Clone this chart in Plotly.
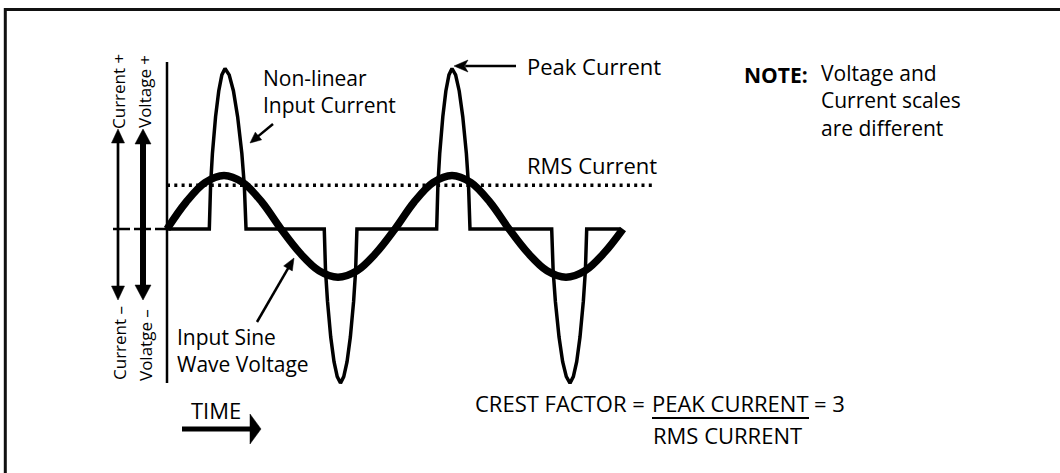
import math
import plotly.graph_objects as go

# ---------------- data (time in electrical degrees, amplitude in relative units) ----------------
volt_t = [0, 30, 60, 90, 120, 150, 180, 210, 240, 270, 300, 330, 360,
          390, 420, 450, 480, 510, 540, 570, 600, 630, 660, 690, 720]
volt_v = [0, 0.5, 0.866, 1.0, 0.866, 0.5, 0, -0.45, -0.78, -0.9, -0.78, -0.45, 0,
          0.5, 0.866, 1.0, 0.866, 0.5, 0, -0.45, -0.78, -0.9, -0.78, -0.45, 0]

cur_t = [0,
         66.8, 68.8, 71.7, 76.7, 81.7, 86.6, 91.6, 98.2, 104.9, 111.5, 118.2, 122.1, 124.8,
         248.3, 250.3, 253.4, 258.5, 263.7, 268.8, 273.9, 279.1, 284.3, 289.5, 294.7, 297.8, 299.9,
         425.8, 427.7, 430.6, 435.5, 440.3, 445.2, 450.0, 455.7, 461.4, 467.0, 472.7, 476.1, 478.4,
         607.4, 609.7, 613.2, 619.0, 624.7, 630.5, 636.3, 641.6, 646.9, 652.1, 657.4, 660.6, 662.7,
         715]
cur_v = [0,
         0, 0.81, 1.41, 2.10, 2.58, 2.88, 3.0, 2.88, 2.58, 2.10, 1.41, 0.81, 0,
         0, -0.78, -1.35, -2.02, -2.48, -2.76, -2.88, -2.76, -2.48, -2.02, -1.35, -0.78, 0,
         0, 0.81, 1.41, 2.10, 2.58, 2.88, 3.0, 2.88, 2.58, 2.10, 1.41, 0.81, 0,
         0, -0.78, -1.35, -2.02, -2.48, -2.76, -2.88, -2.76, -2.48, -2.02, -1.35, -0.78, 0,
         0]

rms_t = [0, 770]
rms_v = [0.82, 0.82]

axis_t = [0, 0]
axis_v = [3.12, -2.88]

# ---------------- page geometry ----------------
W, H = 1060, 473
X0_PX, Y0_PX = 167, 229          # pixel of t=0, amplitude 0
PX_PER_DEG = 228 / 360
PX_PER_UNIT = 53.5
x_range = [-X0_PX / PX_PER_DEG, (W - X0_PX) / PX_PER_DEG]
y_range = [(Y0_PX - H) / PX_PER_UNIT, Y0_PX / PX_PER_UNIT]


def px(x):
    return x / W


def py(y):
    return 1 - y / H


FONT = "Open Sans"
INK = "#000000"

fig = go.Figure()

# axis line
fig.add_trace(go.Scatter(x=axis_t, y=axis_v, mode="lines",
                         line=dict(color=INK, width=2.5), hoverinfo="skip"))
# RMS dotted line
fig.add_trace(go.Scatter(x=rms_t, y=rms_v, mode="lines",
                         line=dict(color=INK, width=3.5, dash="3px,4.3px"), hoverinfo="skip"))
# non-linear current
fig.add_trace(go.Scatter(x=cur_t, y=cur_v, mode="lines",
                         line=dict(color=INK, width=3.5), hoverinfo="skip"))
# sine voltage
fig.add_trace(go.Scatter(x=volt_t, y=volt_v, mode="lines",
                         line=dict(color=INK, width=7.5, shape="spline"), hoverinfo="skip"))

shapes = []

# outer border
shapes.append(dict(type="rect", xref="paper", yref="paper",
                   x0=px(5.3), y0=py(H + 10), x1=px(W + 10), y1=py(9.5),
                   line=dict(color="#111111", width=3)))

# dashed zero line left of the axis
shapes.append(dict(type="line", xref="paper", yref="paper",
                   x0=px(113), y0=py(229), x1=px(166), y1=py(229),
                   line=dict(color=INK, width=2.5, dash="17px,4px")))


def head(tx, ty, ux, uy, hl, hw, notch=0.0):
    bx, by = tx - ux * hl, ty - uy * hl
    nx, ny = -uy, ux
    lx, ly = bx + nx * hw / 2, by + ny * hw / 2
    rx, ry = bx - nx * hw / 2, by - ny * hw / 2
    mx, my = tx - ux * hl * (1 - notch), ty - uy * hl * (1 - notch)
    path = (f"M {px(tx)} {py(ty)} L {px(lx)} {py(ly)} L {px(mx)} {py(my)} "
            f"L {px(rx)} {py(ry)} Z")
    return dict(type="path", xref="paper", yref="paper", path=path,
                fillcolor=INK, line=dict(color=INK, width=0.5))


def arrow(x0, y0, x1, y1, lw, hl, hw, both=False, notch=0.0):
    L = math.hypot(x1 - x0, y1 - y0)
    ux, uy = (x1 - x0) / L, (y1 - y0) / L
    sx0, sy0 = x0, y0
    if both:
        sx0, sy0 = x0 + ux * hl * 0.8, y0 + uy * hl * 0.8
    sx1, sy1 = x1 - ux * hl * 0.8, y1 - uy * hl * 0.8
    out = [dict(type="line", xref="paper", yref="paper",
                x0=px(sx0), y0=py(sy0), x1=px(sx1), y1=py(sy1),
                line=dict(color=INK, width=lw))]
    out.append(head(x1, y1, ux, uy, hl, hw, notch))
    if both:
        out.append(head(x0, y0, -ux, -uy, hl, hw, notch))
    return out


# current / voltage double arrows
shapes += arrow(118, 300, 118, 129, 2.7, 14, 13, both=True)
shapes += arrow(143, 300, 143, 129, 6, 15, 16, both=True)
# pointer arrows
shapes += arrow(273, 124, 250, 143, 2.5, 11, 10)
shapes += arrow(516, 66, 454, 66, 2.5, 14, 12, notch=0.25)
shapes += arrow(257, 322, 294, 258, 2.5, 12, 10)
# TIME arrow
shapes += arrow(182, 429, 261, 429, 5, 11, 30)
# fraction bar
shapes.append(dict(type="line", xref="paper", yref="paper",
                   x0=px(652), y0=py(418), x1=px(809), y1=py(418),
                   line=dict(color=INK, width=2)))

annotations = []


def txt(s, x, y, size=22, anchor="left", angle=0):
    annotations.append(dict(text=s, xref="paper", yref="paper", x=px(x), y=py(y),
                            xanchor=anchor, yanchor="middle", showarrow=False,
                            textangle=angle, align="left",
                            font=dict(family=FONT, size=size, color=INK)))


txt("Current +", 119, 92, size=17, anchor="center", angle=-90)
txt("Voltage +", 145, 92, size=17, anchor="center", angle=-90)
txt("Current –", 119, 343, size=17, anchor="center", angle=-90)
txt("Volatge –", 145, 345, size=17, anchor="center", angle=-90)

txt("Non-linear<br>Input Current", 261, 91.3, size=21)
txt("Peak Current", 525, 66)
txt("RMS Current", 525, 164.5)
txt("<b>NOTE:</b>", 742, 74.5, size=21)
txt("Voltage and<br>Current scales<br>are different", 819, 101, size=21)
txt("Input Sine<br>Wave Voltage", 175, 350.5, size=21)
txt("TIME", 189, 410)
txt("CREST FACTOR =", 647, 402.5, anchor="right")
txt("PEAK CURRENT", 730, 402.5, anchor="center")
txt("= 3", 812, 402.5)
txt("RMS CURRENT", 727, 435, anchor="center")

fig.update_layout(
    width=W, height=H,
    margin=dict(l=0, r=0, t=0, b=0),
    paper_bgcolor="white", plot_bgcolor="white",
    showlegend=False,
    xaxis=dict(visible=False, range=x_range, fixedrange=True),
    yaxis=dict(visible=False, range=y_range, fixedrange=True),
    shapes=shapes,
    annotations=annotations,
)

fig.write_html("out.html",
               config={"displayModeBar": False, "staticPlot": True},
               post_script="document.body.style.margin='0';document.body.style.padding='0';")
